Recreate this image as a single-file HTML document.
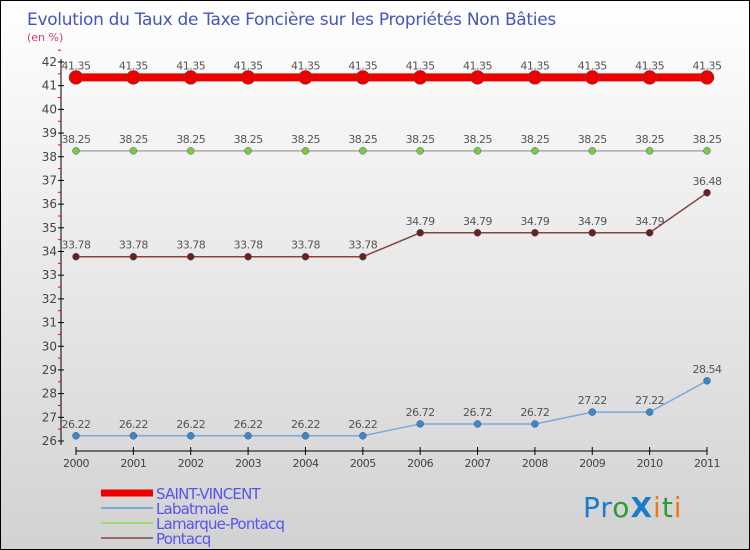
<!DOCTYPE html>
<html><head><meta charset="utf-8"><style>
body{margin:0}
#c{width:750px;height:550px;position:relative;box-sizing:border-box;border:1px solid #000;background:linear-gradient(#fff,#d2d2d2);font-family:"DejaVu Sans","Liberation Sans",sans-serif;overflow:hidden}
svg text{font-family:"DejaVu Sans","Liberation Sans",sans-serif}
</style></head><body>
<div id="c">
<svg width="750" height="550" id="s">
<text x="26" y="24" font-size="17" letter-spacing="-0.3" fill="#4455bb">Evolution du Taux de Taxe Foncière sur les Propriétés Non Bâties</text>
<text x="26" y="40" font-size="11" fill="#cc4466">(en %)</text>
<g id="axes"></g><g id="series"></g><g id="legend"></g>
<text x="582" y="516" font-size="28" letter-spacing="1"><tspan fill="#1a7acc">Pr</tspan><tspan fill="#2a9a3a">o</tspan><tspan fill="#1a7acc" font-weight="bold">X</tspan><tspan fill="#ee7711">i</tspan><tspan fill="#2a9a3a">t</tspan><tspan fill="#ee7711">i</tspan></text>
</svg></div>
<script>
const years=[2000,2001,2002,2003,2004,2005,2006,2007,2008,2009,2010,2011];
const saintVincent=[41.35,41.35,41.35,41.35,41.35,41.35,41.35,41.35,41.35,41.35,41.35,41.35];
const labatmale=[26.22,26.22,26.22,26.22,26.22,26.22,26.72,26.72,26.72,27.22,27.22,28.54];
const lamarque=[38.25,38.25,38.25,38.25,38.25,38.25,38.25,38.25,38.25,38.25,38.25,38.25];
const pontacq=[33.78,33.78,33.78,33.78,33.78,33.78,34.79,34.79,34.79,34.79,34.79,36.48];
const yTicks=[26,27,28,29,30,31,32,33,34,35,36,37,38,39,40,41,42];
const NS="http://www.w3.org/2000/svg";
const X=i=>75+i*(706-75)/(years.length-1);
const Y=v=>440-(v-26)*(440-61)/16;
function mk(t,a,p){const e=document.createElementNS(NS,t);for(const k in a)e.setAttribute(k,a[k]);p.appendChild(e);return e;}
const ax=document.getElementById('axes');
let e=mk('line',{x1:60,y1:58,x2:60,y2:444,stroke:'#000'},ax);


yTicks.forEach(v=>{
 mk('line',{x1:57,x2:63,y1:Y(v),y2:Y(v),stroke:'#000'},ax);
 mk('line',{x1:57,x2:60,y1:Y(v+0.5),y2:Y(v+0.5),stroke:'#e00'},ax);
 const t=mk('text',{x:56,y:Y(v)+4,'text-anchor':'end','font-size':12,fill:'#444'},ax);t.textContent=v;
 
 
});
e=mk('line',{x1:75,y1:450,x2:706,y2:450,stroke:'#000'},ax);


years.forEach((y,i)=>{
 mk('line',{x1:X(i),x2:X(i),y1:446,y2:454,stroke:'#000'},ax);
 const t=mk('text',{x:X(i),y:466,'text-anchor':'middle','font-size':11,fill:'#444','letter-spacing':'-0.5'},ax);t.textContent=y;
 
 
});
const sg=document.getElementById('series');
const series=[
 {name:'labatmale',d:labatmale,c:'#77aadd',m:'#3a88cc',w:1.5,r:3.5},
 {name:'lamarque-pontacq',d:lamarque,c:'#aaaaaa',m:'#77cc44',w:1.5,r:3.5},
 {name:'pontacq',d:pontacq,c:'#884444',m:'#662222',w:1.5,r:3.5},
 {name:'saint-vincent',d:saintVincent,c:'#ee0000',m:'#ee0000',w:8,r:7}
];
series.forEach(s=>{
 const g=mk('g',{},sg);
 
 
 const p=mk('polyline',{points:s.d.map((v,i)=>X(i)+','+Y(v)).join(' '),fill:'none',stroke:s.c,'stroke-width':s.w},g);
 
 
 s.d.forEach((v,i)=>{
  const c=mk('circle',{cx:X(i),cy:Y(v),r:s.r,fill:s.m,stroke:'#555','stroke-width':0.5},g);
  
  
  const t=mk('text',{x:X(i),y:Y(v)-8,'text-anchor':'middle','font-size':11,fill:'#555','letter-spacing':'-0.5'},g);
  t.textContent=v.toFixed(2);
  
  
 });
});
const lg=document.getElementById('legend');
const leg=[['SAINT-VINCENT','#ee0000',7],['Labatmale','#77aadd',2],['Lamarque-Pontacq','#99dd66',2],['Pontacq','#996666',2]];
leg.forEach((l,i)=>{
 const y=492+i*15;
 const r=mk('line',{x1:100,x2:152,y1:y,y2:y,stroke:l[1],'stroke-width':l[2]},lg);
 
 
 const t=mk('text',{x:155,y:y+6,'font-size':15,fill:'#5555ee','letter-spacing':'-0.8'},lg);t.textContent=l[0];
 
 
});
</script>
</body></html>
